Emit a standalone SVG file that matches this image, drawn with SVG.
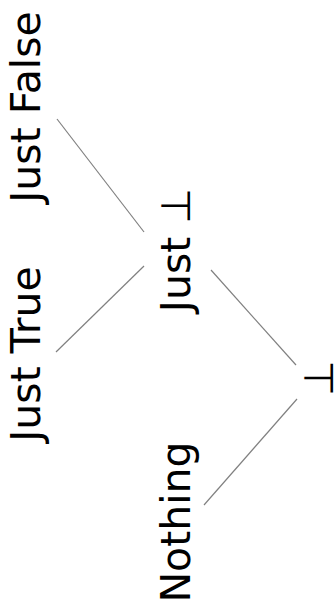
<svg xmlns="http://www.w3.org/2000/svg" width="336" height="606" viewBox="0 0 336 606">
<style>
text{font-family:"DejaVu Sans",sans-serif;font-size:41px;fill:#000;text-anchor:middle}
.e{stroke:#808080;stroke-width:1.2;fill:none}
</style>
<rect width="336" height="606" fill="#fff"/>
<g id="edges">
<line class="e" x1="57" y1="119" x2="144" y2="232"/>
<line class="e" x1="144" y1="266" x2="56" y2="352"/>
<line class="e" x1="211" y1="270" x2="296" y2="365"/>
<line class="e" x1="297" y1="399" x2="204" y2="505"/>
</g>
<g id="justFalse"><text transform="translate(40,107) rotate(-90)">Just False</text></g>
<g id="justTrue"><text transform="translate(40,354) rotate(-90)">Just True</text></g>
<g id="justBot"><text transform="translate(190,250) rotate(-90)">Just ⊥</text></g>
<g id="nothing"><text transform="translate(190,522) rotate(-90)">Nothing</text></g>
<g id="bot"><text transform="translate(333,378) rotate(-90)">⊥</text></g>
</svg>
